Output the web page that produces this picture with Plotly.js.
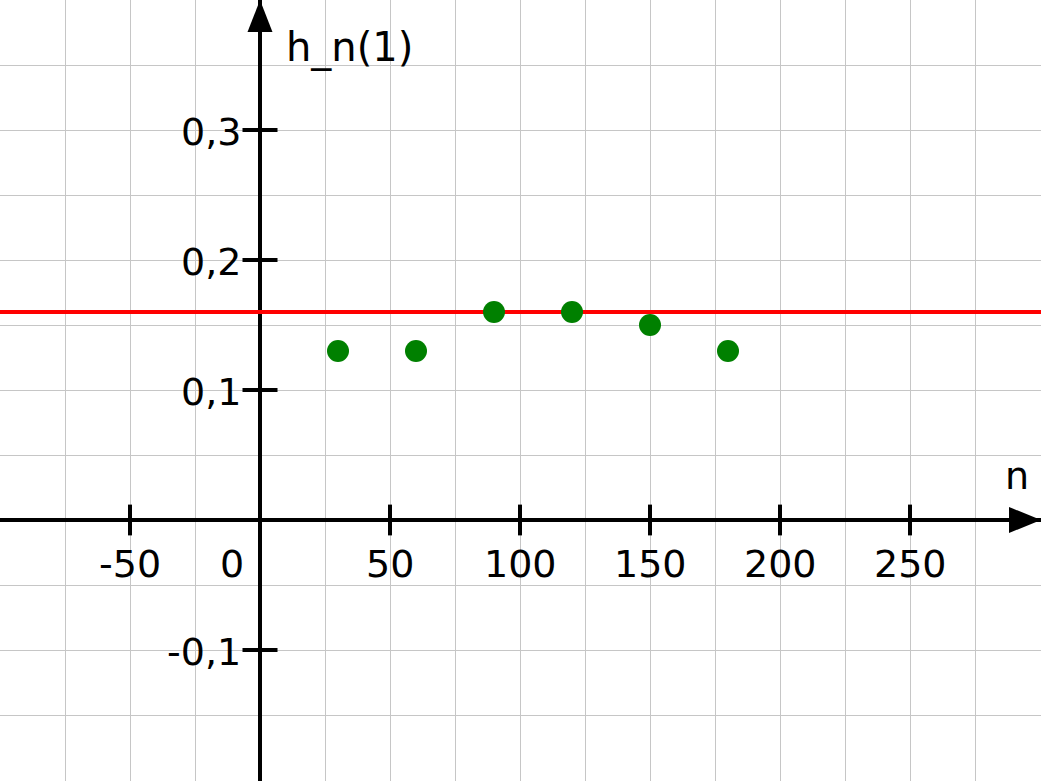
<!DOCTYPE html>
<html><head><meta charset="utf-8">
<script src="https://cdn.plot.ly/plotly-3.0.1.min.js"></script>
<style>html,body{margin:0;padding:0;background:#fff;}#chart{width:1041px;height:781px;}</style>
</head><body><div id="chart"></div>
<script>
// Data
const nValues = [30, 60, 90, 120, 150, 180];
const hValues = [0.13, 0.13, 0.16, 0.16, 0.15, 0.13];
const refLevel = 0.16;
const xTickVals = [-50, 50, 100, 150, 200, 250];
const xTickText = ['-50', '50', '100', '150', '200', '250'];
const yTickVals = [-0.1, 0.1, 0.2, 0.3];
const yTickText = ['-0,1', '0,1', '0,2', '0,3'];
const xTitle = 'n';
const yTitle = 'h_n(1)';

const W = 1041, H = 781;
const xRange = [-100, -100 + W / 2.6];
const yRange = [0.4 - H / 1300, 0.4];
const FONT = 'DejaVu Sans, Verdana, sans-serif';
const FS = 38;

const traces = [
  {x: xRange, y: [refLevel, refLevel], mode: 'lines', line: {color: '#ff0000', width: 4}, hoverinfo: 'skip'},
  {x: xTickVals, y: xTickVals.map(() => 0), mode: 'markers',
   marker: {symbol: 'line-ns', size: 22, color: '#000', line: {color: '#000', width: 4}}, hoverinfo: 'skip'},
  {x: yTickVals.map(() => 0), y: yTickVals, mode: 'markers',
   marker: {symbol: 'line-ew', size: 25, color: '#000', line: {color: '#000', width: 4}}, hoverinfo: 'skip'},
  {x: nValues, y: hValues, mode: 'markers', marker: {color: '#008000', size: 22}, hoverinfo: 'skip'}
];

const ann = [];
xTickVals.forEach((v, i) => ann.push({x: v, y: 0, text: xTickText[i], showarrow: false,
  xanchor: 'center', yanchor: 'top', yshift: -20, font: {family: FONT, size: FS, color: '#000'}}));
ann.push({x: 0, y: 0, text: '0', showarrow: false, xanchor: 'right', yanchor: 'top',
  xshift: -14, yshift: -20, font: {family: FONT, size: FS, color: '#000'}});
yTickVals.forEach((v, i) => ann.push({x: 0, y: v, text: yTickText[i], showarrow: false,
  xanchor: 'right', yanchor: 'middle', xshift: -17, yshift: -2, font: {family: FONT, size: FS, color: '#000'}}));
ann.push({x: 0, y: yRange[1], text: yTitle, showarrow: false, xanchor: 'left', yanchor: 'top',
  xshift: 24, yshift: -22, font: {family: FONT, size: 40, color: '#000'}});
ann.push({x: xRange[1], y: 0, text: xTitle, showarrow: false, xanchor: 'right', yanchor: 'bottom',
  xshift: -10, yshift: 20, font: {family: FONT, size: FS, color: '#000'}});

const shapes = [
  {type: 'path', path: `M ${xRange[1]-12.3},-0.0100 L ${xRange[1]},0 L ${xRange[1]-12.3},0.0100 Z`,
   fillcolor: '#000', line: {width: 0}},
  {type: 'path', path: `M -4.8,${yRange[1]-0.0246} L 0,${yRange[1]} L 4.8,${yRange[1]-0.0246} Z`,
   fillcolor: '#000', line: {width: 0}}
];

const layout = {
  width: W, height: H,
  margin: {l: 0, r: 0, t: 0, b: 0, pad: 0},
  paper_bgcolor: '#fff', plot_bgcolor: '#fff',
  showlegend: false,
  xaxis: {range: xRange, dtick: 25, tick0: 0, showgrid: true, gridcolor: '#c6c6c6', gridwidth: 1,
    zeroline: true, zerolinecolor: '#000', zerolinewidth: 4, showticklabels: false, ticks: '', showline: false, fixedrange: true},
  yaxis: {range: yRange, dtick: 0.05, tick0: 0, showgrid: true, gridcolor: '#c6c6c6', gridwidth: 1,
    zeroline: true, zerolinecolor: '#000', zerolinewidth: 4, showticklabels: false, ticks: '', showline: false, fixedrange: true},
  annotations: ann,
  shapes: shapes
};
Plotly.newPlot('chart', traces, layout, {staticPlot: true});
</script></body></html>
